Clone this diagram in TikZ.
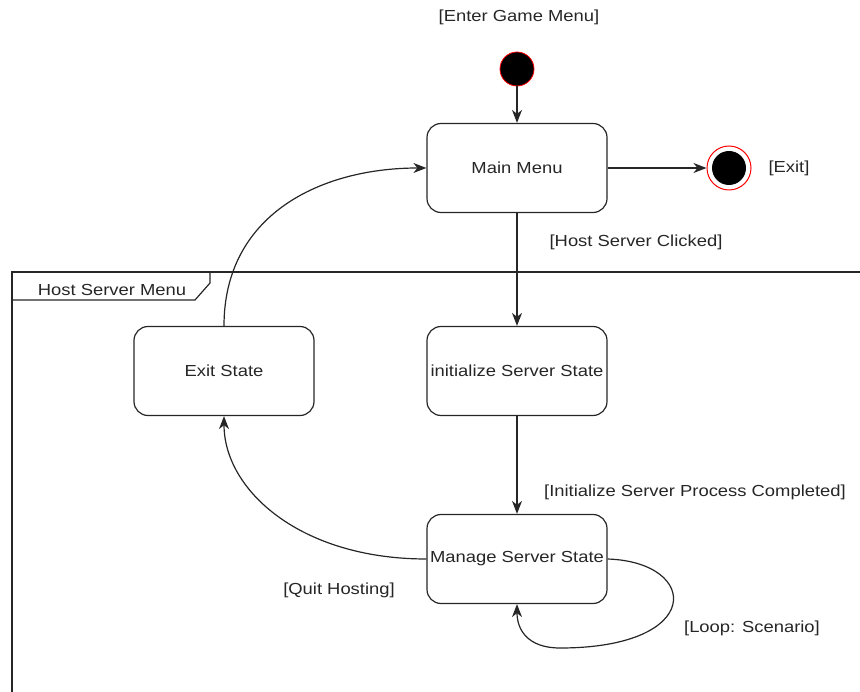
\documentclass[tikz,border=0pt]{standalone}
\usepackage{fontspec}
\setmainfont[FakeStretch=1.15]{Liberation Sans}
\usetikzlibrary{arrows.meta}
\begin{document}
\begin{tikzpicture}[x=1pt,y=-1pt,
  font=\fontsize{16}{19}\selectfont,
  txt/.style={text=black!85},
  statebox/.style={draw=black!85, line width=1.2pt, rounded corners=14pt, minimum width=180pt, minimum height=89pt, inner sep=0pt, text=black!85},
  conn/.style={draw=black!85, line width=1.2pt, -{Stealth[length=13pt,width=10pt,inset=4pt]}},
  plain/.style={draw=black!85, line width=1.2pt}]
\useasboundingbox (0,0) rectangle (860,692);
% frame
\draw[plain] (860,272) -- (12,272) -- (12,692);
\draw[plain] (12,300) -- (195,300) -- (210,283) -- (210,272);
\node[txt] (framelbl) at (112,290) {Host Server Menu};
% nodes
\node[circle, fill=black, draw=red, line width=0.8pt, minimum size=34pt, inner sep=0pt] (init) at (517,69) {};
\node[txt] (enter) at (519,17) {[Enter Game Menu]};
\node[statebox] (main) at (517,168) {Main Menu};
\node[circle, draw=red, line width=1pt, minimum size=44pt, inner sep=0pt] (final) at (729,168) {};
\node[circle, fill=black, minimum size=34pt, inner sep=0pt] (finalin) at (729,168) {};
\node[txt] (exitlbl) at (789,168) {[Exit]};
\node[statebox] (initsrv) at (517,371) {initialize Server State};
\node[statebox] (exitst) at (224,371) {Exit State};
\node[statebox] (manage) at (517,559) {Manage Server State};
\node[txt] (hostlbl) at (636,242) {[Host Server Clicked]};
\node[txt] (initlbl) at (695,492) {[Initialize Server Process Completed]};
\node[txt] (quitlbl) at (339,590) {[Quit Hosting]};
\node[txt] (looplbl) at (752,628) {[Loop: Scenario]};
\coordinate (loopa) at (560,648);
% connectors
\draw[conn] (init) -- (main);
\draw[conn] (main.east) -- (final);
\draw[conn] (main.south) -- (initsrv.north);
\draw[conn] (initsrv.south) -- (manage.north);
\draw[conn] (manage.west) .. controls (300,559) and (224,490) .. (exitst.south);
\draw[conn] (exitst.north) .. controls (224,215) and (320,168) .. (main.west);
\draw[plain] (manage.east) .. controls (700,562) and (705,648) .. (loopa);
\draw[conn] (loopa) .. controls (528,648) and (517,630) .. (manage.south);
\end{tikzpicture}
\end{document}
